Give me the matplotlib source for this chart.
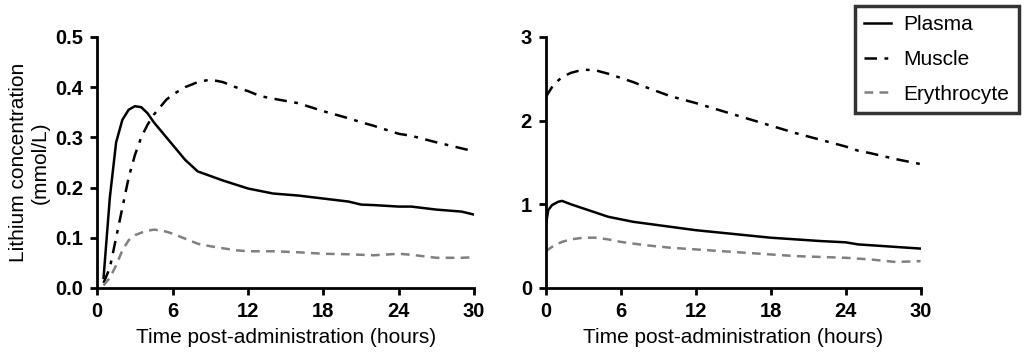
import numpy as np
import matplotlib.pyplot as plt

plt.rcParams['font.family'] = ['Liberation Sans', 'DejaVu Sans']

# left panel (low dose)
t_left = [0.5, 1, 1.5, 2, 2.5, 3, 3.5, 4, 4.5, 5, 5.5, 6, 7, 8, 9, 10, 11, 12, 13, 14, 16, 18, 20, 21, 22, 24, 25, 27, 29, 30]
plasma_left = [0.02, 0.18, 0.29, 0.335, 0.355, 0.362, 0.36, 0.348, 0.33, 0.315, 0.30, 0.285, 0.255, 0.232, 0.223, 0.214, 0.206, 0.198, 0.193, 0.188, 0.184, 0.178, 0.172, 0.166, 0.165, 0.162, 0.162, 0.156, 0.152, 0.146]
muscle_left = [0.01, 0.04, 0.10, 0.16, 0.22, 0.265, 0.30, 0.325, 0.345, 0.36, 0.375, 0.385, 0.40, 0.41, 0.415, 0.41, 0.40, 0.392, 0.382, 0.377, 0.368, 0.352, 0.338, 0.33, 0.323, 0.307, 0.303, 0.29, 0.278, 0.272]
eryth_left = [0.005, 0.02, 0.045, 0.075, 0.095, 0.105, 0.11, 0.114, 0.116, 0.115, 0.112, 0.108, 0.098, 0.088, 0.083, 0.079, 0.075, 0.073, 0.073, 0.073, 0.071, 0.068, 0.067, 0.066, 0.065, 0.068, 0.066, 0.06, 0.06, 0.061]

# right panel (high dose)
t_right = [0, 0.2, 0.5, 1, 1.3, 2, 3, 4, 5, 6, 7, 8, 10, 12, 14, 16, 18, 20, 22, 24, 25, 26, 28, 30]
plasma_right = [0.75, 0.93, 0.99, 1.03, 1.04, 1.0, 0.95, 0.9, 0.85, 0.82, 0.79, 0.77, 0.73, 0.69, 0.66, 0.63, 0.60, 0.58, 0.56, 0.545, 0.52, 0.51, 0.49, 0.47]
muscle_right = [2.28, 2.33, 2.40, 2.48, 2.52, 2.57, 2.61, 2.60, 2.56, 2.51, 2.46, 2.40, 2.29, 2.21, 2.12, 2.03, 1.94, 1.85, 1.77, 1.69, 1.64, 1.61, 1.54, 1.48]
eryth_right = [0.44, 0.46, 0.49, 0.53, 0.55, 0.58, 0.60, 0.60, 0.58, 0.55, 0.53, 0.51, 0.48, 0.46, 0.44, 0.42, 0.40, 0.38, 0.37, 0.36, 0.35, 0.34, 0.31, 0.32]

fig = plt.figure(figsize=(10.24, 3.55), dpi=100)
ax1 = fig.add_axes([0.095, 0.189, 0.368, 0.707])
ax2 = fig.add_axes([0.533, 0.189, 0.366, 0.707])

def style(ax, ymax, yticks, ylabels):
    ax.set_xlim(0, 30)
    ax.set_ylim(0, ymax)
    ax.set_xticks([0, 6, 12, 18, 24, 30])
    ax.set_yticks(yticks)
    ax.set_yticklabels(ylabels)
    for s in ['top', 'right']:
        ax.spines[s].set_visible(False)
    for s in ['left', 'bottom']:
        ax.spines[s].set_linewidth(2)
    ax.tick_params(width=2, length=5, labelsize=14.5, direction='out', pad=5)
    for lab in ax.get_xticklabels() + ax.get_yticklabels():
        lab.set_fontweight('bold')
    ax.set_xlabel('Time post-administration (hours)', fontsize=15, labelpad=5)

for ax, t, p, m, e in [(ax1, t_left, plasma_left, muscle_left, eryth_left),
                       (ax2, t_right, plasma_right, muscle_right, eryth_right)]:
    ax.plot(t, p, color='black', lw=1.8, label='Plasma')
    ax.plot(t, m, color='black', lw=1.8, linestyle=(0, (5, 3, 1.5, 3)), label='Muscle')
    ax.plot(t, e, color='#808080', lw=1.8, linestyle=(0, (3.5, 2.5)), label='Erythrocyte')

style(ax1, 0.5, [0, 0.1, 0.2, 0.3, 0.4, 0.5], ['0.0', '0.1', '0.2', '0.3', '0.4', '0.5'])
style(ax2, 3, [0, 1, 2, 3], ['0', '1', '2', '3'])
ax1.set_ylabel('Lithium concentration\n(mmol/L)', fontsize=15, labelpad=4)

handles, labels = ax2.get_legend_handles_labels()
leg = fig.legend(handles, labels, loc='upper right', bbox_to_anchor=(0.999, 0.995),
                 fontsize=15, frameon=True, fancybox=False, handlelength=1.3,
                 handletextpad=0.6, labelspacing=0.75, borderpad=0.45, borderaxespad=0.2)
leg.get_frame().set_edgecolor('black')
leg.get_frame().set_linewidth(2.5)

fig.savefig('out.png', dpi=100)
